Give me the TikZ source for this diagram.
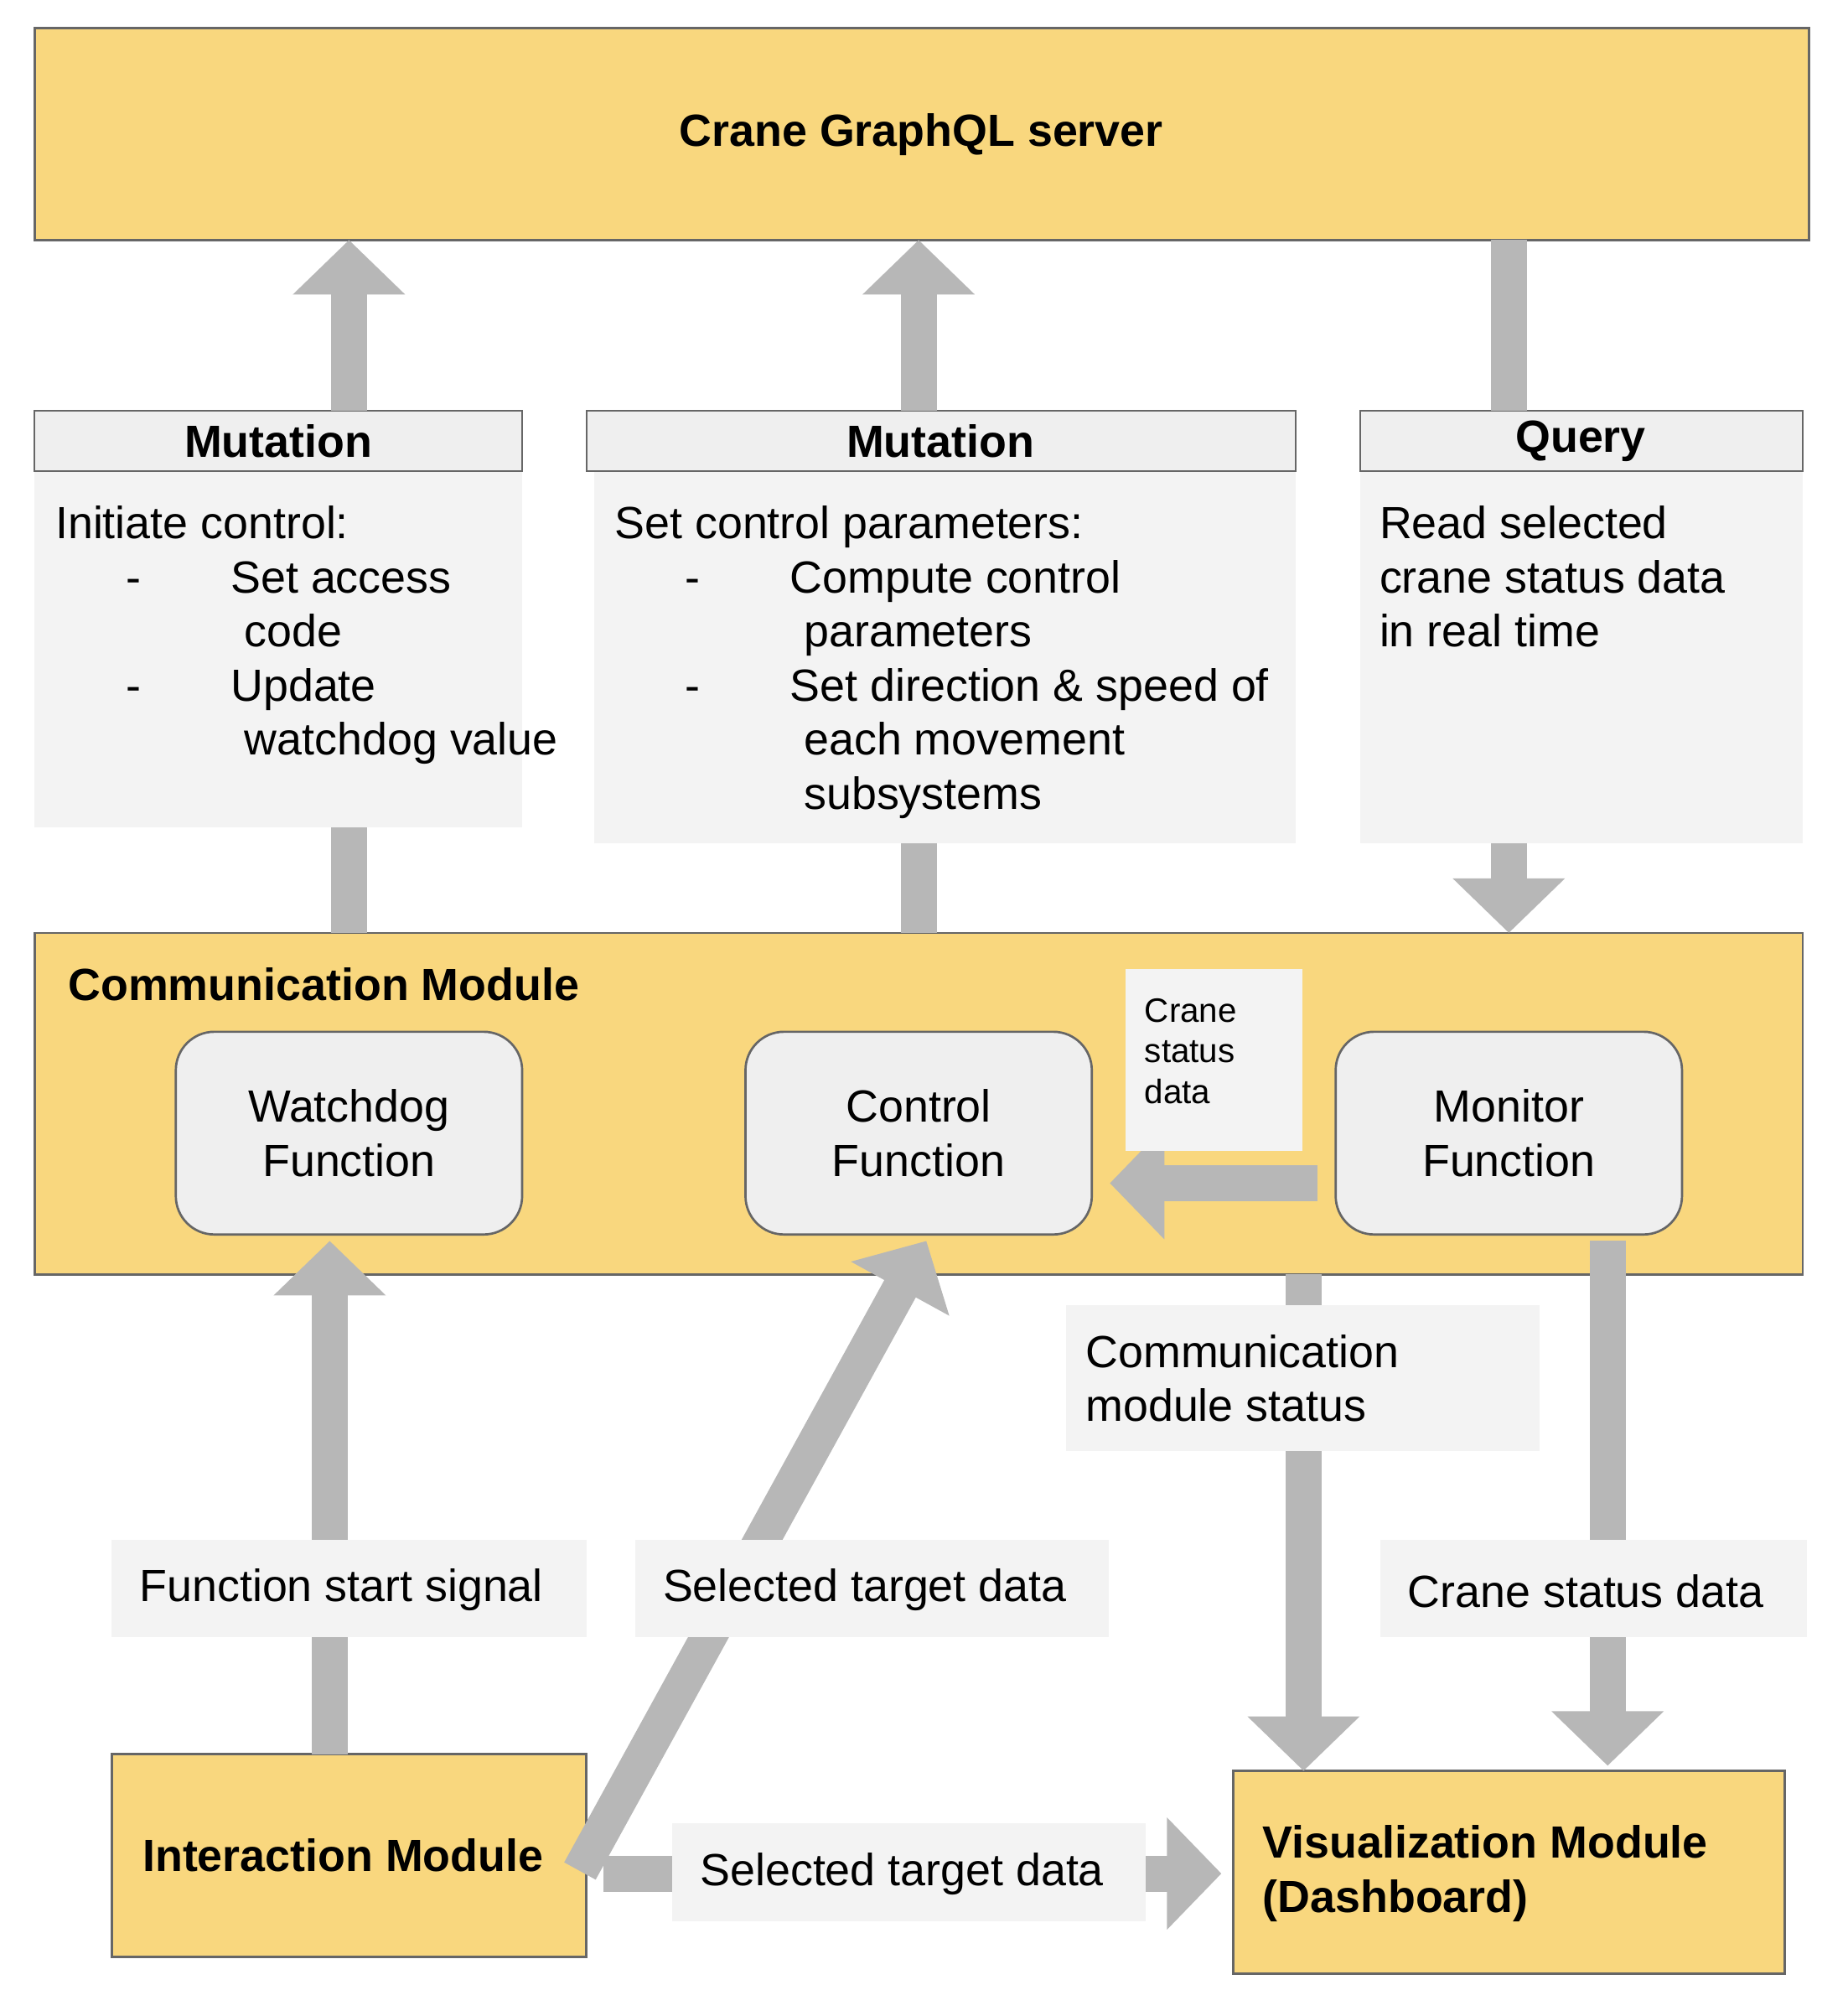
\documentclass[tikz,border=0pt]{standalone}
\usepackage{fontspec}
\setmainfont{Liberation Sans}
\usetikzlibrary{arrows.meta}
\definecolor{modyellow}{HTML}{F9D77E}
\definecolor{boxgray}{HTML}{EFEFEF}
\definecolor{notegray}{HTML}{F3F3F3}
\definecolor{flowgray}{HTML}{B7B7B7}
\definecolor{edgegray}{HTML}{666666}
\begin{document}
\begin{tikzpicture}[x=0.02cm,y=-0.02cm,
	module/.style={draw=edgegray,line width=1pt,fill=modyellow},
	header/.style={draw=edgegray,line width=0.8pt,fill=boxgray},
	func/.style={draw=edgegray,line width=1pt,fill=boxgray,rounded corners=0.6cm},
	note/.style={fill=notegray},
	flow/.style={draw=flowgray,line width=0.56cm},
	flowhead/.style={flow,-{Triangle[width=1.7cm,length=0.85cm]}},
	txt/.style={font=\fontsize{20}{24}\selectfont,align=left},
	btxt/.style={font=\fontsize{20}{24}\selectfont\bfseries}]
		\useasboundingbox (0,0) rectangle (1440,1571);
		% server and request boxes
		\draw[module] (27,22) rectangle (1410,187);
		\node[btxt] (server) at (718,105) {Crane GraphQL server};
		\fill[note] (27,367) rectangle (407,645);
		\fill[note] (463,367) rectangle (1010,657);
		\fill[note] (1060,367) rectangle (1405,657);
		\draw[header] (27,320) rectangle (407,367);
		\draw[header] (457,320) rectangle (1010,367);
		\draw[header] (1060,320) rectangle (1405,367);
		\node[btxt] (mut1) at (217,344) {Mutation};
		\node[btxt] (mut2) at (733,344) {Mutation};
		\node[btxt] (query) at (1232,344) {Query};
		\node[txt,anchor=north west] (mut1body) at (37,388) {Initiate control:\\
			\hspace*{1.1cm}-\hspace*{1.4cm}Set access\\ \hspace*{2.95cm}code\\
			\hspace*{1.1cm}-\hspace*{1.4cm}Update\\ \hspace*{2.95cm}watchdog value};
		\node[txt,anchor=north west] (mut2body) at (473,388) {Set control parameters:\\
			\hspace*{1.1cm}-\hspace*{1.4cm}Compute control\\ \hspace*{2.95cm}parameters\\
			\hspace*{1.1cm}-\hspace*{1.4cm}Set direction \& speed of\\ \hspace*{2.95cm}each movement\\ \hspace*{2.95cm}subsystems};
		\node[txt,anchor=north west] (querybody) at (1069,388) {Read selected\\ crane status data\\ in real time};

		% communication module
		\draw[module] (27,727) rectangle (1405,993);
		\node[btxt,anchor=west] (comm) at (47,767) {Communication Module};
		\node[func,txt,align=center,minimum width=5.4cm,minimum height=3.16cm] (watchdog) at (272,883) {Watchdog\\Function};
		\node[func,txt,align=center,minimum width=5.4cm,minimum height=3.16cm] (control) at (716,883) {Control\\Function};
		\node[func,txt,align=center,minimum width=5.4cm,minimum height=3.16cm] (monitor) at (1176,883) {Monitor\\Function};

		% bottom modules
		\draw[module] (87,1367) rectangle (457,1525);
		\node[btxt,anchor=west] (interaction) at (105,1446) {Interaction Module};
		\draw[module] (961,1380) rectangle (1391,1538);
		\node[btxt,anchor=west,align=left] (visual) at (978,1460) {Visualization Module\\(Dashboard)};

		% flows
		\coordinate (s1) at (272,320); \coordinate (t1) at (272,187);
		\coordinate (s2) at (716,320); \coordinate (t2) at (716,187);
		\coordinate (q1) at (1176,187); \coordinate (q2) at (1176,320);
		\draw[flowhead] (s1) -- (t1);
		\draw[flowhead] (s2) -- (t2);
		\draw[flow] (q1) -- (q2);
		\draw[flow] (272,645) -- (272,727);
		\draw[flow] (716,657) -- (716,727);
		\draw[flowhead] (1176,657) -- (1176,727);
		\draw[flowhead] (1027,922) -- (865,922);
		\draw[flowhead] (257,1367) -- (257,967);
		\draw[flowhead] (452,1458) -- (722,967);
		\draw[flowhead] (1016,993) -- (1016,1380);
		\draw[flowhead] (1253,967) -- (1253,1376);
		\draw[flowhead] (470,1460) -- (952,1460);

		% flow labels
		\fill[note] (877,755) rectangle (1015,897);
		\node[anchor=north west,align=left,font=\fontsize{15}{18}\selectfont] (cranelbl) at (886,772) {Crane\\status\\data};
		\fill[note] (831,1017) rectangle (1200,1131);
		\node[txt,anchor=west] (commlbl) at (840,1074) {Communication\\module status};
		\fill[note] (87,1200) rectangle (457,1276);
		\node[txt] (startlbl) at (266,1239) {Function start signal};
		\fill[note] (495,1200) rectangle (864,1276);
		\node[txt] (targetlbl) at (674,1239) {Selected target data};
		\fill[note] (1076,1200) rectangle (1408,1276);
		\node[txt] (statuslbl) at (1236,1240) {Crane status data};
		\fill[note] (524,1421) rectangle (893,1497);
		\node[txt] (target2lbl) at (703,1460) {Selected target data};
\end{tikzpicture}
\end{document}
